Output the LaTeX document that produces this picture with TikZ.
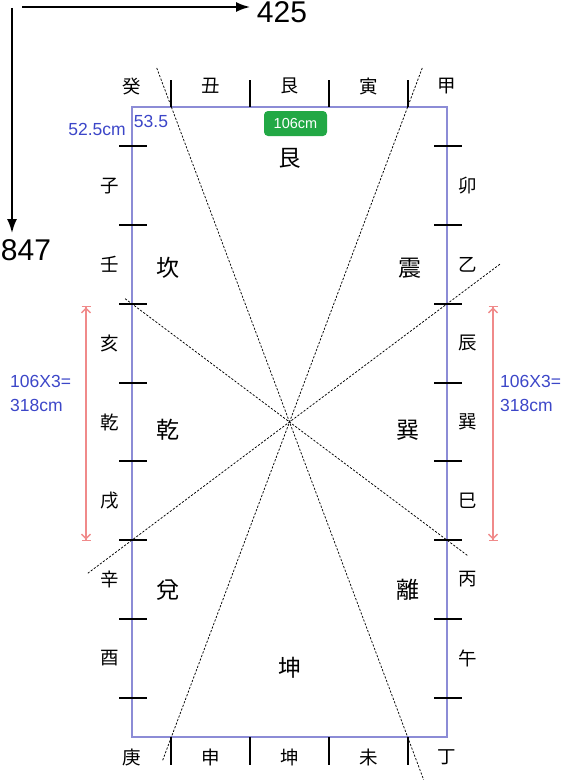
\documentclass[tikz,border=0pt]{standalone}
\usepackage{fontspec}
\setmainfont{Liberation Sans}
\newfontfamily\jpfont{Noto Sans CJK JP}
\usetikzlibrary{arrows.meta,calc}
\definecolor{framecol}{HTML}{8C8CD6}
\definecolor{dimred}{HTML}{F08A8A}
\definecolor{dimblue}{HTML}{3C46C8}
\definecolor{badgegreen}{HTML}{22A845}
\tikzset{
  mountain/.style={font=\jpfont\fontsize{18.5}{18.5}\selectfont, inner sep=0pt},
  trigram/.style={font=\jpfont\fontsize{23}{23}\selectfont, inner sep=0pt},
  dimtext/.style={text=dimblue, font=\fontsize{17.5}{24}\selectfont, align=left, inner sep=0pt},
  ticked/.style={line width=1.8pt},
  guide/.style={line width=0.75pt, dash pattern=on 2.2pt off 1.6pt},
  sizearrow/.style={dimred, line width=1.4pt,
    {Bar[width=9pt]Straight Barb[length=4.5pt,width=9pt]}-{Straight Barb[length=4.5pt,width=9pt]Bar[width=9pt]}},
  axisarrow/.style={line width=1.8pt, -{Latex[length=14pt,width=10pt]}}
}
\begin{document}
\begin{tikzpicture}[x=1pt,y=-1pt]
    \useasboundingbox (0,0) rectangle (568,784);
    % Ejes de referencia
    \coordinate (origin) at (12,7);
    \coordinate (width-tip) at (250,7);
    \coordinate (height-tip) at (12,233);
    \node[font=\fontsize{30}{30}\selectfont, inner sep=0pt] (width) at (282,12) {425};
    \node[font=\fontsize{30}{30}\selectfont, inner sep=0pt] (height) at (26,250) {847};
    \draw[axisarrow] ([xshift=10pt]origin) -- (width-tip);
    \draw[axisarrow] ([yshift=-1pt]origin) -- (height-tip);

    % Rectángulo de la planta
    \draw[framecol, line width=2pt] (132,107) rectangle (447,737);

    % Líneas de separación (24 montañas)
    \foreach \k in {0,...,3} {
        \draw[ticked] (171.375+78.75*\k,80) -- (171.375+78.75*\k,107);
        \draw[ticked] (171.375+78.75*\k,737) -- (171.375+78.75*\k,765);
    }
    \foreach \k in {0,...,7} {
        \draw[ticked] (119,146.375+78.75*\k) -- (147,146.375+78.75*\k);
        \draw[ticked] (434,146.375+78.75*\k) -- (462,146.375+78.75*\k);
    }

    % Diagonales
    \coordinate (tl) at (171.375,107);
    \coordinate (tr) at (407.625,107);
    \coordinate (bl) at (171.375,737);
    \coordinate (br) at (407.625,737);
    \coordinate (ml) at (132,303.875);
    \coordinate (mr) at (447,303.875);
    \coordinate (nl) at (132,540.125);
    \coordinate (nr) at (447,540.125);
    \draw[guide] ($(tl)!-0.062!(br)$) -- ($(tl)!1.068!(br)$);
    \draw[guide] ($(tr)!-0.062!(bl)$) -- ($(tr)!1.037!(bl)$);
    \draw[guide] ($(ml)!-0.022!(nr)$) -- ($(ml)!1.067!(nr)$);
    \draw[guide] ($(mr)!-0.168!(nl)$) -- ($(mr)!1.14!(nl)$);

    % Montañas de arriba y abajo
    \foreach \name/\top/\bot [count=\i from 0] in {a/癸/庚, b/丑/申, c/艮/坤, d/寅/未, e/甲/丁} {
        \node[mountain] (top-\name) at (132+78.75*\i,86) {\top};
        \node[mountain] (bot-\name) at (132+78.75*\i,757) {\bot};
    }
    % Montañas de los lados
    \foreach \name/\lft/\rgt [count=\i from 1] in {a/子/卯, b/壬/乙, c/亥/辰, d/乾/巽, e/戌/巳, f/辛/丙, g/酉/午} {
        \node[mountain] (left-\name) at (110,107+78.75*\i) {\lft};
        \node[mountain] (right-\name) at (468,107+78.75*\i) {\rgt};
    }

    % Trigramas
    \node[trigram] (gen) at (290,158) {艮};
    \node[trigram] (kan) at (168,268) {坎};
    \node[trigram] (zhen) at (410,268) {震};
    \node[trigram] (qian) at (168,430) {乾};
    \node[trigram] (xun) at (408,430) {巽};
    \node[trigram] (dui) at (168,590) {兌};
    \node[trigram] (li) at (408,590) {離};
    \node[trigram] (kun) at (290,668) {坤};

    % Medidas
    \node[fill=badgegreen, rounded corners=4pt, minimum width=63pt, minimum height=25pt,
          text=white, font=\fontsize{14.5}{14.5}\selectfont] (badge) at (295.5,123.5) {106cm};
    \node[dimtext] (margin-left) at (97,129) {52.5cm};
    \node[dimtext] (margin-top) at (151,121) {53.5};
    \node[dimtext, anchor=west] (span-left) at (10,393) {106X3=\\318cm};
    \node[dimtext, anchor=west] (span-right) at (500,393) {106X3=\\318cm};
    \coordinate (left-up) at (86,306);
    \coordinate (left-down) at (86,541);
    \coordinate (right-up) at (493,306);
    \coordinate (right-down) at (493,541);
    \draw[sizearrow] (left-up) -- (left-down);
    \draw[sizearrow] (right-up) -- (right-down);
\end{tikzpicture}
\end{document}
